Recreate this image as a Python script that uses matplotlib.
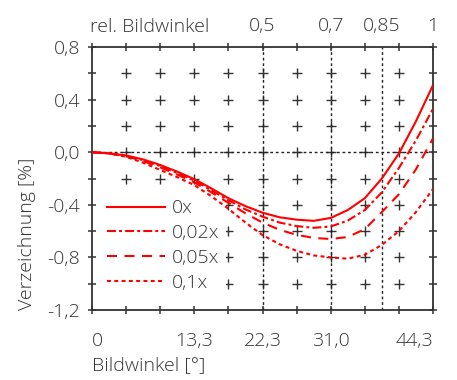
import numpy as np
import matplotlib.pyplot as plt

plt.rcParams['font.family'] = ['Open Sans', 'DejaVu Sans']
plt.rcParams['font.size'] = 14
plt.rcParams['font.weight'] = 'light'
plt.rcParams['axes.labelweight'] = 'light'
plt.rcParams['text.color'] = '#333333'

# relativer Bildwinkel (x), Verzeichnung in % fuer die vier Faelle
rel_winkel = [0.0, 0.05, 0.10, 0.15, 0.20, 0.25, 0.30, 0.35, 0.40, 0.45, 0.50,
              0.55, 0.60, 0.65, 0.70, 0.75, 0.80, 0.85, 0.90, 0.95, 1.00]
verz_0x = [0.0, -0.008, -0.025, -0.055, -0.097, -0.148, -0.205, -0.275, -0.35, -0.41, -0.46,
           -0.495, -0.513, -0.522, -0.50, -0.44, -0.35, -0.20, -0.01, 0.235, 0.51]
verz_002x = [0.0, -0.009, -0.028, -0.06, -0.105, -0.158, -0.215, -0.29, -0.365, -0.435, -0.49,
             -0.535, -0.562, -0.575, -0.565, -0.52, -0.44, -0.305, -0.12, 0.09, 0.33]
verz_005x = [0.0, -0.01, -0.03, -0.068, -0.115, -0.17, -0.23, -0.305, -0.385, -0.465, -0.535,
             -0.59, -0.628, -0.652, -0.66, -0.645, -0.585, -0.455, -0.32, -0.13, 0.105]
verz_01x = [0.0, -0.01, -0.035, -0.08, -0.135, -0.19, -0.25, -0.335, -0.43, -0.535, -0.63,
            -0.70, -0.75, -0.785, -0.80, -0.81, -0.78, -0.705, -0.60, -0.455, -0.28]

kurven_labels = ['0x', '0,02x', '0,05x', '0,1x']

# Achsenbeschriftungen
grad_pos = [0.0, 0.3, 0.5, 0.7, 1.0]
grad_labels = ['0', '13,3', '22,3', '31,0', '44,3']
rel_pos = [0.5, 0.7, 0.85, 1.0]
rel_labels = ['0,5', '0,7', '0,85', '1']
y_pos = [0.8, 0.4, 0.0, -0.4, -0.8, -1.2]
y_labels = ['0,8', '0,4', '0,0', '-0,4', '-0,8', '-1,2']
hilfslinien_x = [0.5, 0.7, 0.85]

grau = '#333333'
rot = '#ff0000'

fig = plt.figure(figsize=(4.57, 3.80), dpi=100, facecolor='white')
ax = fig.add_axes([92 / 457, 1 - 310 / 380, 341 / 457, 263 / 380])

ax.set_xlim(0, 1)
ax.set_ylim(-1.2, 0.8)

# Kreuzraster
gx, gy = np.meshgrid(np.arange(1, 10) / 10, np.arange(-5, 4) / 5)
ax.plot(gx.ravel(), gy.ravel(), ls='none', marker='+', ms=7, mew=1.0, color=grau, zorder=1)

# gepunktete Hilfslinien
ax.axhline(0, color='#222222', lw=1.0, ls=(0, (2, 2)), zorder=1)
for xv in hilfslinien_x:
    ax.axvline(xv, color='#222222', lw=1.0, ls=(0, (2, 2)), zorder=1)

stile = ['-', (0, (4.3, 1.5, 1.4, 1.5)), (0, (4.8, 3.6)), (0, (1.9, 1.6))]
for werte, lab, st in zip([verz_0x, verz_002x, verz_005x, verz_01x], kurven_labels, stile):
    ax.plot(rel_winkel, werte, color=rot, lw=1.5, ls=st, label=lab, zorder=6)

leg = ax.legend(loc='upper left', bbox_to_anchor=(0.027, 0.443), borderaxespad=0,
                handlelength=3.0, handletextpad=0.36, labelspacing=0.35, borderpad=0.3,
                frameon=True, fancybox=False, framealpha=1, edgecolor='none', fontsize=14)
leg.get_frame().set_linewidth(0)
leg.set_zorder(4)

for sp in ax.spines.values():
    sp.set_color(grau)
    sp.set_linewidth(1.3)

xt = np.arange(11) / 10
ax.set_xticks(xt)
ax.set_xticklabels([grad_labels[grad_pos.index(round(v, 1))] if round(v, 1) in grad_pos else ''
                    for v in xt])
yt = np.arange(-6, 5) / 5
ax.set_yticks(yt)
ax.set_yticklabels([y_labels[y_pos.index(round(v, 1))] if round(v, 1) in y_pos else ''
                    for v in yt])

ax.tick_params(direction='inout', length=6, width=1.1, color=grau,
               top=True, right=True, labelsize=14, labelcolor=grau)
ax.tick_params(axis='x', pad=13)
ax.tick_params(axis='y', pad=5.5)

lab = ax.get_xticklabels()
lab[0].set_horizontalalignment('left')
lab[-1].set_horizontalalignment('right')

# obere Achse: relativer Bildwinkel
top = ax.secondary_xaxis('top')
top.set_xticks(rel_pos)
top.set_xticklabels(rel_labels)
top.tick_params(length=0, pad=8.5, labelsize=14, labelcolor=grau)
top.spines['top'].set_visible(False)
fig.text(90 / 457, 1 - 31.5 / 380, 'rel. Bildwinkel', ha='left', va='baseline',
         fontsize=14, color=grau)

ax.set_xlabel('Bildwinkel [°]', loc='left', fontsize=14, color=grau, labelpad=4)
ax.set_ylabel('Verzeichnung [%]', loc='bottom', fontsize=14, color=grau, labelpad=8)

fig.savefig('out.png', dpi=100, facecolor='white')
